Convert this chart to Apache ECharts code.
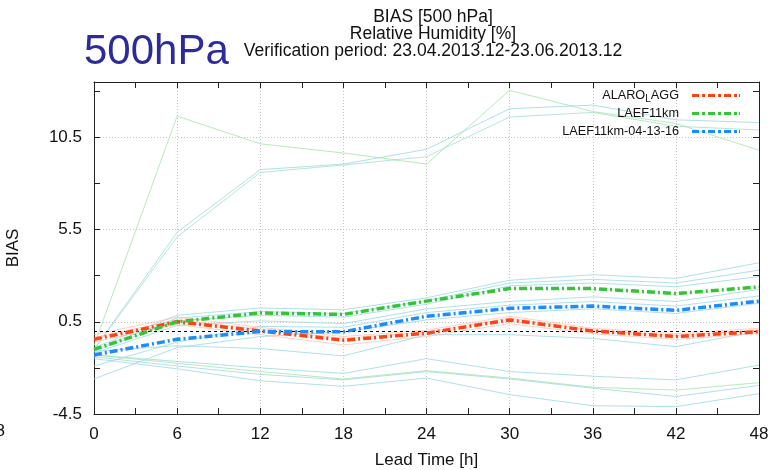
<!DOCTYPE html>
<html>
<head>
<meta charset="utf-8">
<script src="https://cdn.jsdelivr.net/npm/echarts@6/dist/echarts.min.js"></script>
<style>
html,body{margin:0;padding:0;background:#fff;}
#chart{width:776px;height:470px;}
</style>
</head>
<body>
<div id="chart"></div>
<script>
// Lead times (h)
const hours = [0, 6, 12, 18, 24, 30, 36, 42, 48];
const xTickLabels = [0, 6, 12, 18, 24, 30, 36, 42, 48];
const yTickLabels = [-4.5, 0.5, 5.5, 10.5];
const yMinorTicks = [-4.5, -2, 0.5, 3, 5.5, 8, 10.5, 13];

// Main series
const alaroLagg = [-0.45, 0.5, 0.0, -0.5, -0.12, 0.6, 0.0, -0.3, -0.03];
const laef11km = [-1.0, 0.5, 0.98, 0.9, 1.62, 2.3, 2.3, 2.03, 2.39];
const laef041316 = [-1.3, -0.45, -0.03, -0.04, 0.8, 1.23, 1.35, 1.12, 1.62];

// Ensemble members (thin lines)
const memU1 = [-0.8, 11.65, 10.15, 9.65, 9.05, 13.05, 11.9, 11.25, 9.8];
const memU2 = [-1.0, 5.35, 8.75, 9.05, 9.85, 12.05, 12.25, 11.45, 11.3];
const memU3 = [-1.0, 5.1, 8.6, 9.0, 9.45, 11.6, 11.85, 11.1, 10.9];
const memC1 = [-0.9, 0.85, 1.25, 1.15, 1.8, 2.75, 3.05, 2.85, 3.7];
const memC2 = [-1.0, 0.7, 1.05, 0.95, 1.65, 2.6, 2.8, 2.6, 3.3];
const memC3 = [-1.1, 0.55, 0.85, 0.75, 1.45, 2.45, 2.6, 2.4, 2.95];
const memC4 = [-1.2, 0.3, 0.55, 0.4, 1.2, 1.6, 1.85, 1.6, 2.25];
const memC5 = [-1.9, -0.6, 0.25, 0.2, 1.0, 1.4, 1.6, 1.35, 1.9];
const memC6 = [-2.6, -0.9, -0.3, -0.05, 0.6, 1.0, 1.2, 0.95, 1.5];
const memL1 = [-1.1, -0.8, -0.95, -1.35, -0.2, -0.2, -0.4, -0.85, 0.0];
const memD1 = [-1.3, -1.65, -2.0, -2.3, -1.5, -2.2, -2.45, -2.65, -1.85];
const memD2 = [-1.3, -1.75, -2.2, -2.6, -2.15, -2.55, -3.05, -3.2, -2.8];
const memD3 = [-1.4, -1.9, -2.35, -2.65, -2.2, -2.6, -3.1, -3.55, -2.95];
const memD4 = [-1.5, -2.05, -2.7, -3.0, -2.55, -3.45, -4.05, -4.1, -3.4];
const memP1 = [-0.2, 0.75, 0.2, -0.3, 0.05, 0.8, 0.15, -0.15, 0.15];
const memP2 = [-0.6, 0.35, -0.2, -0.75, -0.3, 0.4, -0.15, -0.45, -0.15];
const memP3 = [-0.35, 0.6, 0.1, -0.4, -0.05, 0.7, 0.05, -0.25, 0.05];

const FONT = 'Liberation Sans, Arial, sans-serif';
const CYAN = 'rgba(150,214,224,0.75)';
const LGREEN = 'rgba(170,230,170,0.85)';
const PINK = 'rgba(255,170,150,0.55)';

const members = [
  {d: memU1, c: LGREEN}, {d: memU2, c: CYAN}, {d: memU3, c: 'rgba(165,222,205,0.8)'},
  {d: memC1, c: CYAN}, {d: memC2, c: CYAN}, {d: memC3, c: CYAN}, {d: memC4, c: CYAN},
  {d: memC5, c: CYAN}, {d: memC6, c: CYAN}, {d: memL1, c: CYAN},
  {d: memD1, c: CYAN}, {d: memD2, c: LGREEN}, {d: memD3, c: CYAN}, {d: memD4, c: CYAN},
  {d: memP1, c: PINK}, {d: memP2, c: PINK}, {d: memP3, c: PINK}
];

function pts(arr) { return hours.map((h, i) => [h, arr[i]]); }

const series = members.map((m, i) => ({
  type: 'line', name: 'member' + i, data: pts(m.d), symbol: 'none', silent: true,
  lineStyle: {color: m.c, width: 1}, itemStyle: {color: m.c}, z: 2,
  emphasis: {disabled: true}
}));
series[0].markLine = {
  silent: true, symbol: 'none', label: {show: false}, animation: false,
  lineStyle: {color: '#000', type: [3, 3], width: 1},
  emphasis: {disabled: true},
  data: [{yAxis: 0}]
};

const DASH = [8, 3, 2, 3];
// dash-dot legend sample as a path (0..48 wide, 3 high)
const LEGEND_ICON = 'path://M0,0h7v3h-7zM10,0h3v3h-3zM16,0h7v3h-7zM26,0h3v3h-3zM32,0h7v3h-7zM42,0h3v3h-3zM47,0h1v3h-1z';
const mains = [
  {name: 'ALARO_LAGG', d: alaroLagg, c: '#ff4212'},
  {name: 'LAEF11km', d: laef11km, c: '#35c435'},
  {name: 'LAEF11km-04-13-16', d: laef041316, c: '#1a8cff'}
];
mains.forEach(m => series.push({
  type: 'line', name: m.name, data: pts(m.d), symbol: 'none', z: 5,
  lineStyle: {color: m.c, width: 3.5, type: DASH}, itemStyle: {color: m.c},
  emphasis: {disabled: true}
}));

function mkLegend(name, top) {
  return {
    data: [{name: name, icon: LEGEND_ICON}], right: 36, top: top, orient: 'vertical', align: 'right', padding: 0,
    itemWidth: 48, itemHeight: 3.5, selectedMode: false,
    formatter: function (n) {
      if (n === 'ALARO_LAGG') return '{n|ALARO}{s|L}{n|AGG}{g|}';
      return '{n|' + n + '}{g|}';
    },
    textStyle: {
      color: '#111', fontFamily: FONT, fontSize: 12.7,
      rich: {
        n: {fontSize: 12.7, fontFamily: FONT, color: '#111'},
        s: {fontSize: 10, fontFamily: FONT, color: '#111', padding: [8, 0, 0, 0]},
        g: {width: 8}
      }
    }
  };
}

const axisLineStyle = {color: '#222', width: 1};
const tickStyle = {color: '#222', width: 1};
const option = {
  animation: false,
  backgroundColor: '#fff',
  textStyle: {fontFamily: FONT},
  title: [
    {
      text: 'BIAS [500 hPa]\nRelative Humidity [%]\nVerification period: 23.04.2013.12-23.06.2013.12',
      left: 433, top: 9, textAlign: 'center', padding: 0,
      textStyle: {fontFamily: FONT, fontSize: 17.5, fontWeight: 'normal', color: '#111', lineHeight: 17, align: 'center'}
    },
    {
      text: '500hPa', left: 84, top: 31, padding: 0,
      textStyle: {fontFamily: FONT, fontSize: 42, fontWeight: 'normal', color: '#2b2b9c'}
    }
  ],
  legend: [mkLegend('ALARO_LAGG', 89), mkLegend('LAEF11km', 107), mkLegend('LAEF11km-04-13-16', 125)],
  grid: {left: 94, right: 17, top: 82, bottom: 56, containLabel: false, outerBoundsMode: 'none'},
  xAxis: [
    {
      type: 'value', position: 'bottom', min: 0, max: 48, interval: 3,
      name: 'Lead Time [h]', nameLocation: 'middle', nameGap: 38,
      nameTextStyle: {fontFamily: FONT, fontSize: 17, color: '#111'},
      axisLine: {show: true, onZero: false, lineStyle: axisLineStyle},
      axisTick: {show: true, inside: true, length: 6, lineStyle: tickStyle},
      axisLabel: {
        show: true, margin: 12, fontFamily: FONT, fontSize: 17, color: '#111',
        formatter: v => (xTickLabels.indexOf(v) >= 0 ? String(v) : '')
      },
      splitLine: {show: false}
    },
    {
      type: 'value', position: 'top', min: 0, max: 48, interval: 3,
      axisLine: {show: true, onZero: false, lineStyle: axisLineStyle},
      axisTick: {show: true, inside: true, length: 6, lineStyle: tickStyle},
      axisLabel: {show: false}, splitLine: {show: false}
    },
    {
      type: 'value', position: 'bottom', min: 0, max: 48, interval: 6,
      axisLine: {show: false, onZero: false}, axisTick: {show: false}, axisLabel: {show: false},
      splitLine: {show: true, lineStyle: {color: '#c4c4c4', type: [1, 2], width: 1}}
    }
  ],
  yAxis: [
    {
      type: 'value', position: 'left', min: -4.5, max: 13.5,
      name: 'BIAS', nameLocation: 'middle', nameGap: 72, nameRotate: 90,
      nameTextStyle: {fontFamily: FONT, fontSize: 17, color: '#111'},
      axisLine: {show: true, onZero: false, lineStyle: axisLineStyle},
      axisTick: {show: true, inside: true, length: 6, lineStyle: tickStyle, customValues: yMinorTicks},
      axisLabel: {show: true, margin: 12, fontFamily: FONT, fontSize: 17, color: '#111', customValues: yTickLabels,
        formatter: v => String(v)},
      splitLine: {show: false}
    },
    {
      type: 'value', position: 'right', min: -4.5, max: 13.5,
      axisLine: {show: true, onZero: false, lineStyle: axisLineStyle},
      axisTick: {show: true, inside: true, length: 6, lineStyle: tickStyle, customValues: yMinorTicks},
      axisLabel: {show: false}, splitLine: {show: false}
    },
    {
      type: 'value', position: 'left', min: -4.5, max: 13.5,
      axisLine: {show: false, onZero: false},
      axisTick: {show: false, length: 0, customValues: [0.5, 5.5, 10.5]},
      axisLabel: {show: false, customValues: [0.5, 5.5, 10.5]},
      splitLine: {show: true, lineStyle: {color: '#c4c4c4', type: [1, 2], width: 1}}
    }
  ],
  graphic: [
    {type: 'text', x: 5, y: 431, style: {text: '8', fill: '#111', font: '17px Liberation Sans', align: 'right', verticalAlign: 'middle'}}
  ],
  series: series
};

const chart = echarts.init(document.getElementById('chart'), null, {renderer: 'canvas'});
chart.setOption(option);
</script>
</body>
</html>
